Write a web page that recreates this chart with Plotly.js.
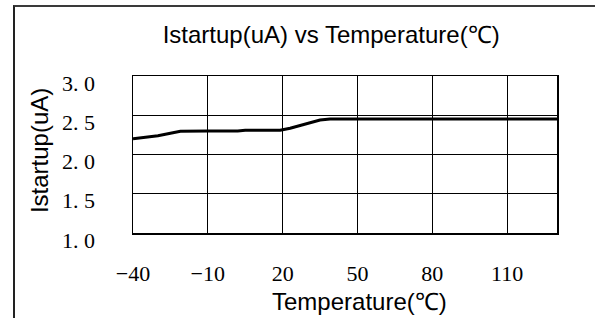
<!DOCTYPE html>
<html>
<head>
<meta charset="utf-8">
<script src="https://cdn.plot.ly/plotly-3.0.1.min.js"></script>
<style>
  html, body { margin: 0; padding: 0; background: #fff; }
  #wrap { position: relative; width: 595px; height: 318px; overflow: hidden; }
  #chart { position: absolute; left: 0; top: 0; width: 595px; height: 318px; }
  #frame { position: absolute; left: 13px; top: 5px; width: 590px; height: 320px;
           border-top: 2px solid #3a3a3a; border-left: 2px solid #222; pointer-events: none; }
</style>
</head>
<body>
<div id="wrap">
  <div id="chart"></div>
  <div id="frame"></div>
</div>
<script>
// Data
const temperature = [-40, -36, -30, -25, -21, -10, 2, 5, 19, 23, 27, 30, 35, 39, 50, 80, 110, 130];
const istartup    = [2.20, 2.215, 2.24, 2.27, 2.295, 2.30, 2.30, 2.31, 2.31, 2.335, 2.37, 2.40, 2.44, 2.452, 2.452, 2.452, 2.452, 2.452];

const xTickVals = [-40, -10, 20, 50, 80, 110];
const xTickText = ['\u221240', '\u221210', '20', '50', '80', '110'];
const yTickVals = [1.0, 1.5, 2.0, 2.5, 3.0];
const yTickText = ['1. 0', '1. 5', '2. 0', '2. 5', '3. 0'];

const titleText = 'Istartup(uA) vs Temperature(\u2103)';
const xTitleText = 'Temperature(\u2103)';
const yTitleText = 'Istartup(uA)';

const sans = 'Liberation Sans, Arial, sans-serif';
const serif = 'Liberation Serif, Times New Roman, serif';

const trace = {
  x: temperature,
  y: istartup,
  type: 'scatter',
  mode: 'lines',
  line: { color: '#000', width: 3 },
  hoverinfo: 'skip'
};

const layout = {
  width: 595,
  height: 318,
  margin: { l: 133, r: 38, t: 76, b: 85, pad: 0 },
  paper_bgcolor: '#fff',
  plot_bgcolor: '#fff',
  showlegend: false,
  title: {
    text: titleText,
    font: { family: sans, size: 24, color: '#000' },
    xref: 'paper', x: (331 - 133) / 423.7, xanchor: 'center',
    yref: 'container', y: 1 - 35 / 318, yanchor: 'middle'
  },
  xaxis: {
    range: [-40, 130],
    tickvals: xTickVals,
    ticktext: xTickText,
    ticks: '',
    ticklabelstandoff: 20,
    tickfont: { family: serif, size: 22, color: '#000' },
    showgrid: true, gridcolor: '#000', gridwidth: 1,
    zeroline: false,
    showline: true, linecolor: '#000', linewidth: 1.5, mirror: true,
    fixedrange: true
  },
  yaxis: {
    range: [1, 3],
    tickvals: yTickVals,
    ticktext: yTickText,
    ticks: '',
    ticklabelstandoff: 32,
    ticklabelshift: 7,
    tickfont: { family: serif, size: 22, color: '#000' },
    showgrid: true, gridcolor: '#000', gridwidth: 1,
    zeroline: false,
    showline: true, linecolor: '#000', linewidth: 1.5, mirror: true,
    fixedrange: true
  },
  annotations: [
    {
      text: xTitleText, showarrow: false,
      xref: 'paper', yref: 'paper',
      x: (359 - 133) / 423.7, y: (232.7 - 301) / 156.7,
      xanchor: 'center', yanchor: 'middle',
      font: { family: sans, size: 24, color: '#000' }
    },
    {
      text: yTitleText, showarrow: false, textangle: -90,
      xref: 'paper', yref: 'paper',
      x: (39 - 133) / 423.7, y: (232.7 - 150) / 156.7,
      xanchor: 'center', yanchor: 'middle',
      font: { family: sans, size: 24, color: '#000' }
    }
  ]
};

Plotly.newPlot('chart', [trace], layout, { staticPlot: true, displayModeBar: false });
</script>
</body>
</html>
